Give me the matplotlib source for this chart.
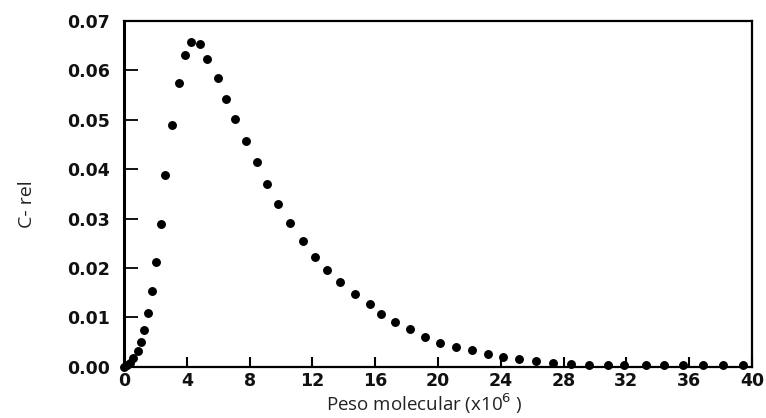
import matplotlib
matplotlib.use("Agg")
import matplotlib.pyplot as plt

# Data (molecular weight x10^6, relative concentration)
peso = [0.00, 0.17, 0.38, 0.59, 0.87, 1.06, 1.27, 1.51, 1.76, 2.02, 2.34, 2.61,
        3.04, 3.48, 3.87, 4.25, 4.86, 5.31, 6.01, 6.52, 7.09, 7.77, 8.47, 9.09,
        9.81, 10.55, 11.40, 12.18, 12.91, 13.78, 14.71, 15.67, 16.39, 17.26,
        18.22, 19.17, 20.15, 21.15, 22.15, 23.17, 24.12, 25.16, 26.24, 27.31,
        28.47, 29.64, 30.81, 31.87, 33.25, 34.38, 35.62, 36.90, 38.17, 39.45]
c_rel = [0.0000, 0.0003, 0.0008, 0.0017, 0.0032, 0.0051, 0.0075, 0.0109, 0.0153,
         0.0212, 0.0288, 0.0388, 0.0489, 0.0575, 0.0632, 0.0657, 0.0653, 0.0623,
         0.0585, 0.0543, 0.0501, 0.0457, 0.0415, 0.0370, 0.0329, 0.0290, 0.0255,
         0.0223, 0.0196, 0.0171, 0.0147, 0.0126, 0.0107, 0.0091, 0.0076, 0.0061,
         0.0049, 0.0040, 0.0033, 0.0025, 0.0020, 0.0015, 0.0011, 0.0007, 0.0005,
         0.0004, 0.0003, 0.0003, 0.0003, 0.0003, 0.0003, 0.0003, 0.0003, 0.0003]

x_ticks = [0, 4, 8, 12, 16, 20, 24, 28, 32, 36, 40]
y_ticks = [0.00, 0.01, 0.02, 0.03, 0.04, 0.05, 0.06, 0.07]
y_tick_labels = ["0.00", "0.01", "0.02", "0.03", "0.04", "0.05", "0.06", "0.07"]

fig = plt.figure(figsize=(7.66, 4.18), dpi=100)
ax = fig.add_axes([124 / 766, 1 - 366.7 / 418, (752 - 124) / 766, (366.7 - 21) / 418])

ax.plot(peso, c_rel, linestyle="none", marker="o", markersize=5.4,
        color="black", clip_on=False, zorder=3)

ax.set_xlim(0, 40)
ax.set_ylim(0, 0.07)
ax.set_xticks(x_ticks)
ax.set_yticks(y_ticks)
ax.set_yticklabels(y_tick_labels)

for s in ax.spines.values():
    s.set_linewidth(1.6)
    s.set_color("black")
ax.spines["left"].set_linewidth(2.2)

ax.tick_params(axis="x", direction="in", length=7, width=1.5, pad=4,
               labelsize=12.5, top=False)
ax.tick_params(axis="y", direction="in", length=10, width=1.3, pad=10,
               labelsize=12.5, right=False)
for lab in ax.get_xticklabels() + ax.get_yticklabels():
    lab.set_fontweight("bold")
    lab.set_family("DejaVu Sans")
    lab.set_color("#111111")

ax.set_xlabel(r"Peso molecular (x10$^{6}$ )", fontsize=13.5, family="Open Sans",
              color="#222222")
ax.xaxis.set_label_coords(0.478, -0.072)
ax.set_ylabel("C- rel", fontsize=14, family="Open Sans", color="#222222")
ax.yaxis.set_label_coords(-0.14, 0.47)

fig.savefig("out.png", dpi=100)
